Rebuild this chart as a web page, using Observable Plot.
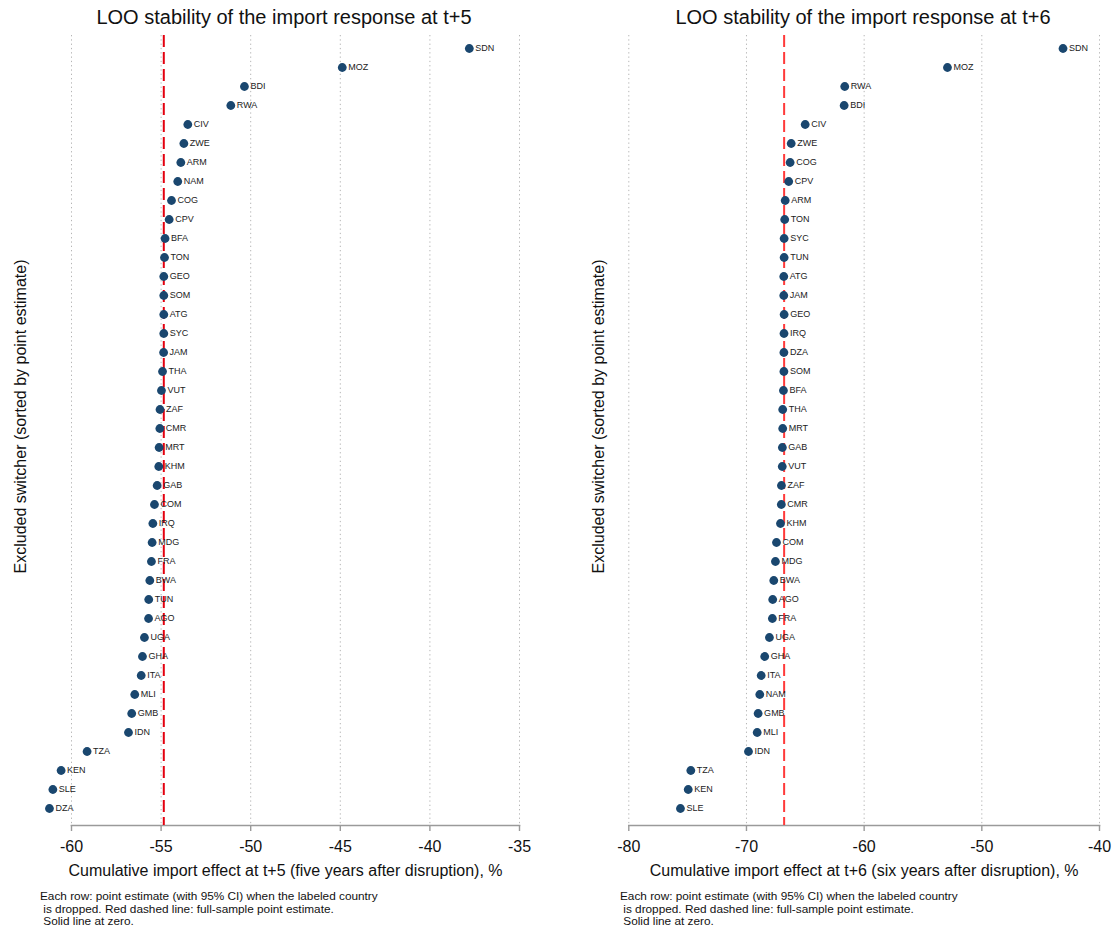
<!DOCTYPE html>
<html><head><meta charset="utf-8">
<script src="https://cdn.jsdelivr.net/npm/d3@7"></script>
<script src="https://cdn.jsdelivr.net/npm/@observablehq/plot@0.6"></script>
<style>
body{margin:0;background:#fff;font-family:"Liberation Sans",Arial,sans-serif;}
#wrap{position:relative;width:1116px;height:931px;overflow:hidden;}
.panel{position:absolute;top:0;width:558px;height:931px;}
.title{position:absolute;top:6px;font-size:20px;color:#111;text-align:center;white-space:nowrap;width:500px;}
.plot{position:absolute;top:30px;left:0;}
.cap{position:absolute;top:890px;font-size:11.8px;line-height:12.6px;white-space:pre;color:#111;}
</style></head>
<body><div id="wrap"></div>
<script>
// ---- data ----
const countries5 = ["SDN","MOZ","BDI","RWA","CIV","ZWE","ARM","NAM","COG","CPV","BFA","TON","GEO","SOM","ATG","SYC","JAM","THA","VUT","ZAF","CMR","MRT","KHM","GAB","COM","IRQ","MDG","FRA","BWA","TUN","AGO","UGA","GHA","ITA","MLI","GMB","IDN","TZA","KEN","SLE","DZA"];
const values5 = [-37.8,-44.89,-50.35,-51.11,-53.51,-53.73,-53.9,-54.07,-54.42,-54.55,-54.78,-54.81,-54.85,-54.85,-54.85,-54.85,-54.86,-54.92,-54.98,-55.06,-55.07,-55.11,-55.13,-55.22,-55.37,-55.46,-55.5,-55.54,-55.63,-55.69,-55.7,-55.93,-56.04,-56.11,-56.47,-56.64,-56.82,-59.13,-60.58,-61.04,-61.23];
const full5 = -54.85;
const ticks5 = [-60,-55,-50,-45,-40,-35];

const countries6 = ["SDN","MOZ","RWA","BDI","CIV","ZWE","COG","CPV","ARM","TON","SYC","TUN","ATG","JAM","GEO","IRQ","DZA","SOM","BFA","THA","MRT","GAB","VUT","ZAF","CMR","KHM","COM","MDG","BWA","AGO","FRA","UGA","GHA","ITA","NAM","GMB","MLI","IDN","TZA","KEN","SLE"];
const values6 = [-43.1,-52.92,-61.65,-61.7,-65.01,-66.2,-66.29,-66.41,-66.71,-66.75,-66.8,-66.8,-66.83,-66.83,-66.8,-66.81,-66.82,-66.82,-66.86,-66.92,-66.92,-66.95,-66.96,-67.03,-67.04,-67.11,-67.45,-67.54,-67.68,-67.77,-67.8,-68.05,-68.45,-68.75,-68.87,-69.01,-69.09,-69.83,-74.73,-74.95,-75.61];
const full6 = -66.8;
const ticks6 = [-80,-70,-60,-50,-40];

const titles = ["LOO stability of the import response at t+5","LOO stability of the import response at t+6"];
const xLabels = ["Cumulative import effect at t+5 (five years after disruption), %","Cumulative import effect at t+6 (six years after disruption), %"];
const yLabel = "Excluded switcher (sorted by point estimate)";
const caption = "Each row: point estimate (with 95% CI) when the labeled country\n is dropped. Red dashed line: full-sample point estimate.\n Solid line at zero.";

// ---- layout ----
const FONT = '"Liberation Sans",Arial,sans-serif';
function panel(opts){
  const {left, countries, values, full, ticks, title, xlabel, mL, mR, ylDx, xlDx, capX, titleCx, redColor} = opts;
  const rows = countries.map((c,i)=>({country:c, value:values[i]}));
  const div = document.createElement("div");
  div.className = "panel"; div.style.left = left+"px";
  const t = document.createElement("div");
  t.className="title"; t.textContent = title;
  t.style.left = (titleCx-250)+"px";
  div.appendChild(t);
  const chart = Plot.plot({
    width:558, height:860,
    marginTop:5, marginBottom:65, marginLeft:mL, marginRight:mR,
    style:{fontFamily:FONT, background:"white", color:"#222", overflow:"visible"},
    x:{domain:[ticks[0], ticks[ticks.length-1]], label:null},
    y:{type:"point", domain:countries, padding:0, insetTop:9, insetBottom:13, axis:null},
    marks:[
      Plot.gridX(ticks, {stroke:"#b5b5b5", strokeOpacity:1, strokeDasharray:"1.3,3", strokeWidth:1}),
      Plot.frame({anchor:"bottom", stroke:"#9a9a9a", strokeWidth:1.6}),
      Plot.axisX(ticks, {tickSize:6, tickPadding:9, fontSize:16, stroke:"#9a9a9a", strokeWidth:1.4, fill:"#111", tickFormat:d=>String(d), label:null}),
      Plot.ruleX([full], {stroke:redColor, strokeWidth:2, strokeDasharray:"12,5"}),
      Plot.dot(rows, {x:"value", y:"country", r:4.4, fill:"#1a476f", stroke:"none"}),
      Plot.text(rows, {x:"value", y:"country", text:"country", textAnchor:"start", dx:6, fontSize:9, fill:"#222"}),
      Plot.text([yLabel], {text:d=>d, frameAnchor:"left", textAnchor:"middle", rotate:-90, dx:ylDx, dy:-14, fontSize:16, fill:"#111"}),
      Plot.text([xlabel], {text:d=>d, frameAnchor:"bottom", dx:xlDx, dy:50, fontSize:16, fill:"#111"})
    ]
  });
  chart.classList.add("plot");
  div.appendChild(chart);
  const c = document.createElement("div");
  c.className="cap"; c.textContent = caption; c.style.left = capX+"px";
  div.appendChild(c);
  document.getElementById("wrap").appendChild(div);
}
panel({left:0, countries:countries5, values:values5, full:full5, ticks:ticks5, title:titles[0], xlabel:xLabels[0], mL:71, mR:39, ylDx:-51, xlDx:-10, capX:40, titleCx:284, redColor:"#e3000f"});
panel({left:558, countries:countries6, values:values6, full:full6, ticks:ticks6, title:titles[1], xlabel:xLabels[1], mL:70.3, mR:17, ylDx:-30, xlDx:0, capX:62, titleCx:305, redColor:"#ff3a3a"});
</script></body></html>
